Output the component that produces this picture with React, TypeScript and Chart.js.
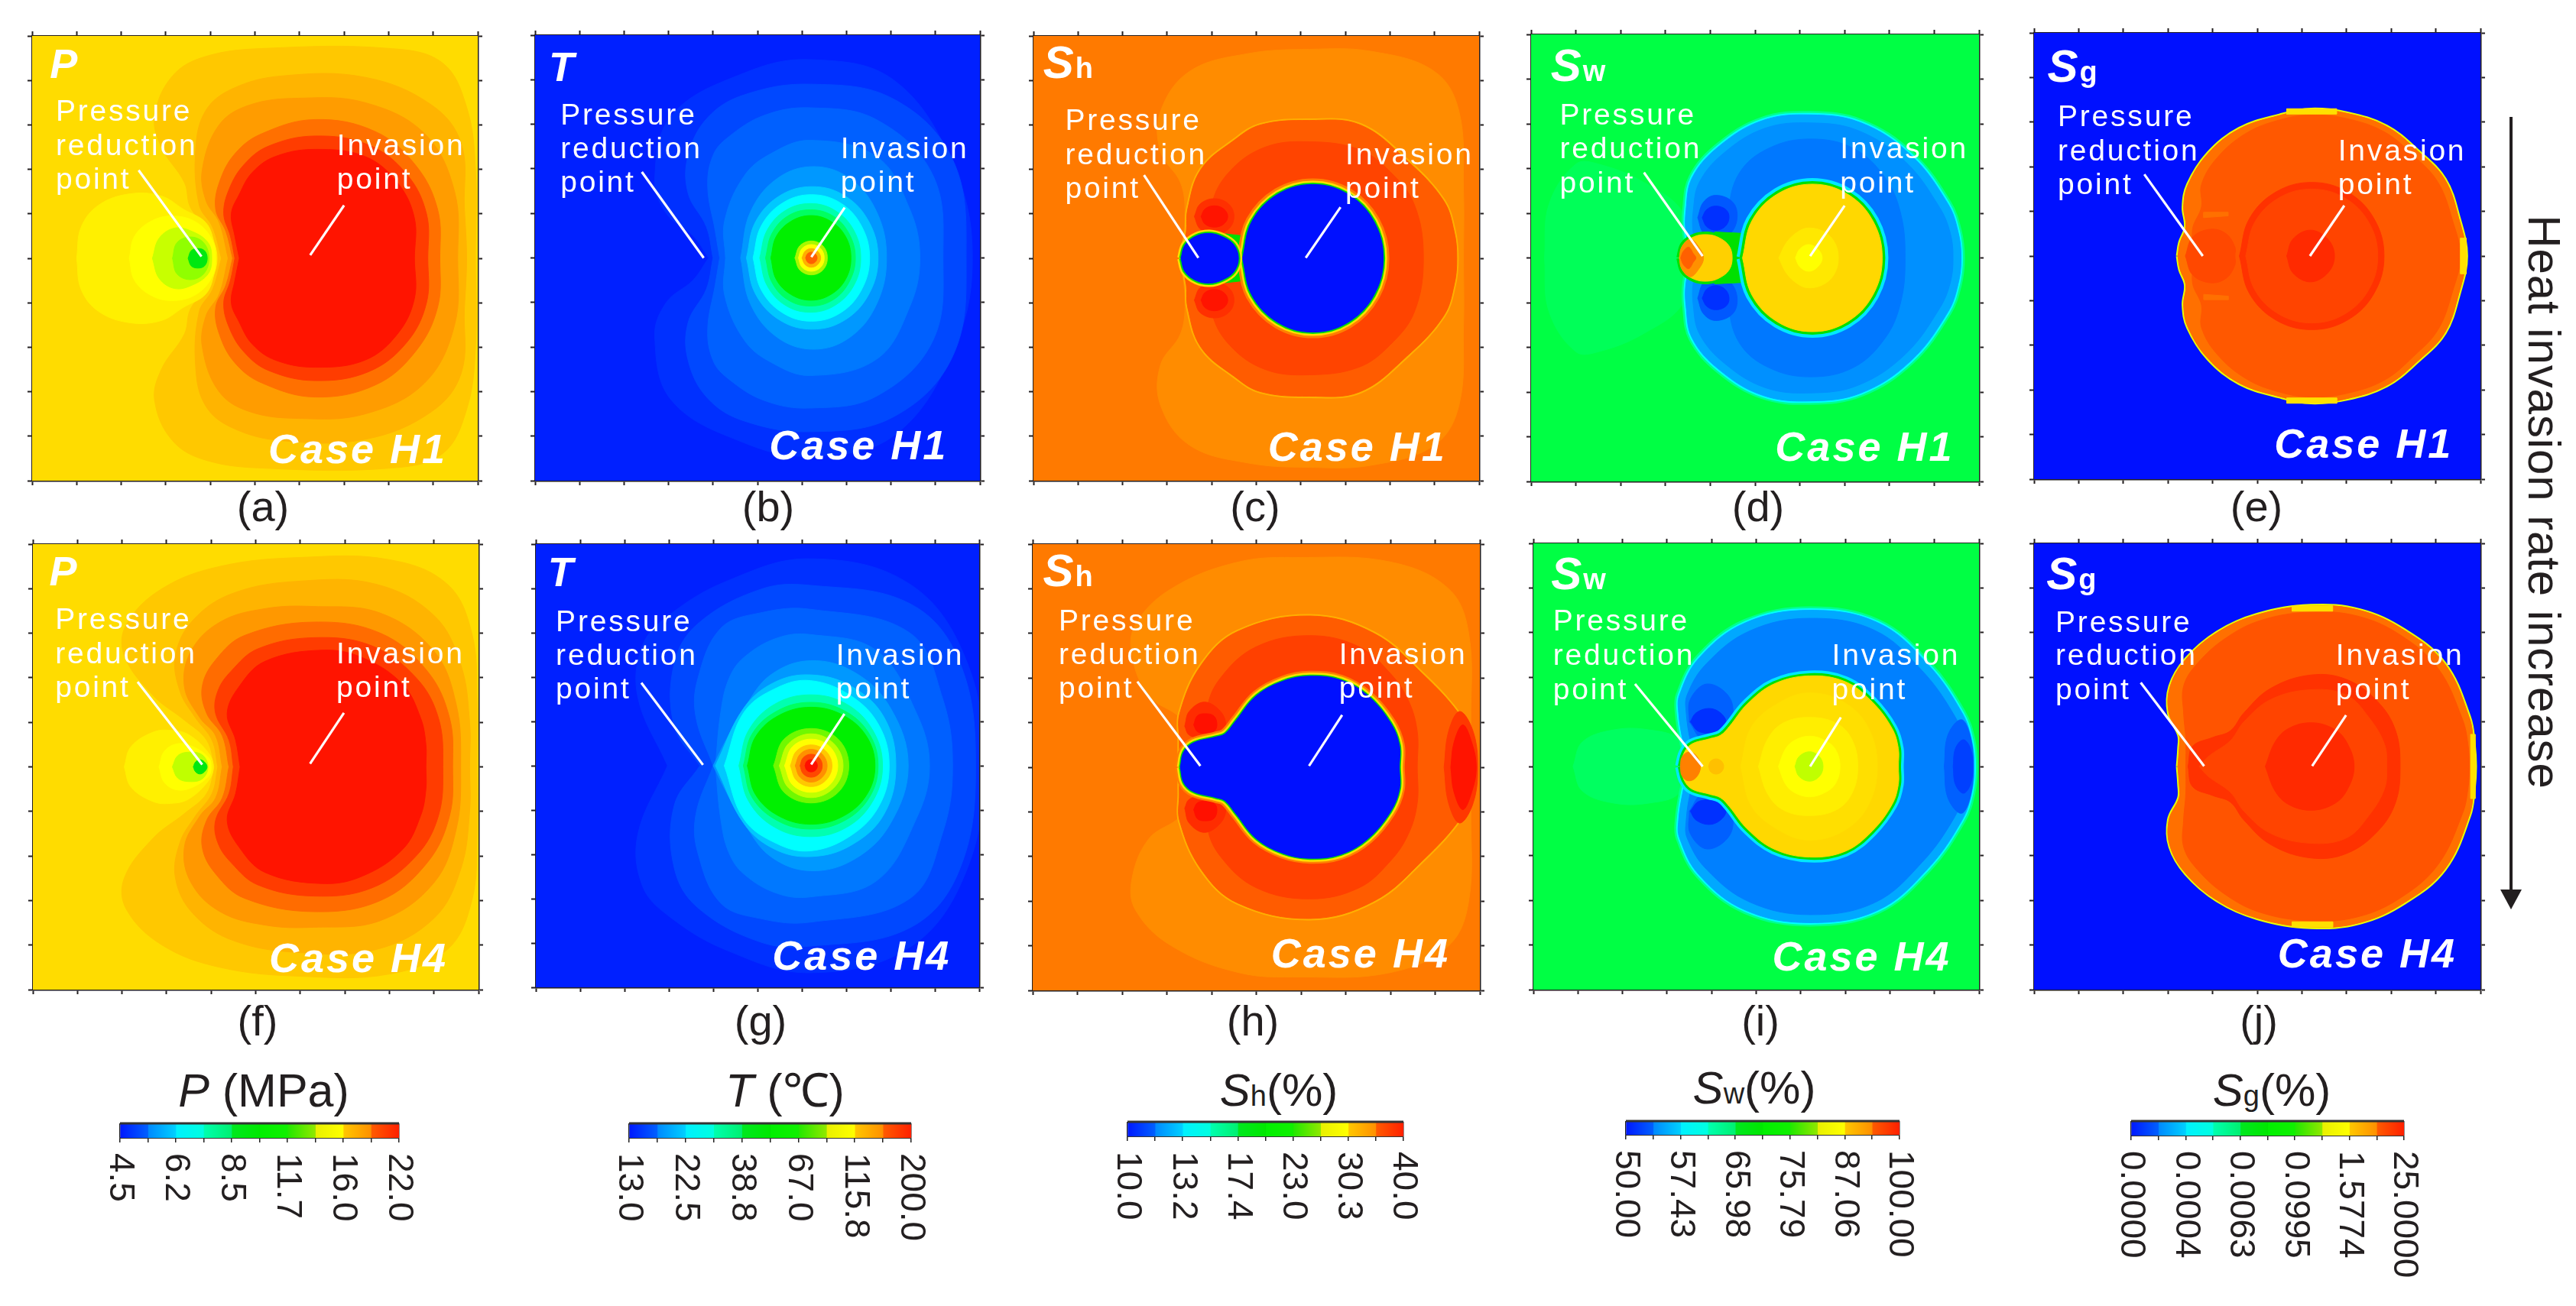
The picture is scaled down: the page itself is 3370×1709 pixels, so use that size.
import React, { useEffect, useRef } from "react";
import { Chart, registerables } from "chart.js";
Chart.register(...registerables);

const FONT = "'Liberation Sans', Arial, sans-serif";
const INK = "#231f20";

// Contours of each field. Each list is x,d pairs on the 0-10 grid,
// where d is the distance from the mid line y=5 (the fields are mirror-symmetric about it).
const contoursA = [
  [4.1,0,3.95,.6,3.55,1.15,3.42,1.7,2.9,2.5,2.75,3.2,3.15,4.1,3.9,4.54,5.23,4.72,8,4.72,9.2,4.4,9.75,3.4,9.95,2,9.95,0],
  [4.25,0,4.05,.7,3.75,1.2,3.67,2.44,3.89,3.31,4.49,3.81,5.6,4.1,7.47,4.07,8.96,3.45,9.63,2.58,9.7,1.14,9.75,0],
  [4.4,0,4.2,.8,3.9,1.3,3.82,2,4.19,2.99,4.86,3.44,5.98,3.6,7.47,3.5,8.81,2.8,9.48,1.5,9.55,0],
  [4.5,0,4.35,.6,4.12,1.1,4.2,1.7,4.55,2.35,5.15,2.8,6.35,3.12,7.7,2.85,8.6,2.1,9.1,1.1,9.15,0],
  [4.55,0,4.45,.5,4.3,1,4.42,1.55,4.75,2.1,5.3,2.52,6.35,2.75,7.55,2.55,8.4,1.9,8.85,1,8.88,0],
  [4.65,0,4.55,.5,4.47,1,4.64,1.42,4.94,1.93,5.46,2.29,6.35,2.45,7.47,2.29,8.2,1.7,8.58,.9,8.58,0],
  [1,0,1.1,.7,1.5,1.2,2.2,1.45,2.9,1.4,3.4,1.1,3.9,.8,4.1,.3,4.15,0],
  [2.18,0,2.3,.5,2.7,.85,3.2,.95,3.7,.8,4.05,.4,4.12,0],
  [2.7,0,2.85,.45,3.2,.68,3.6,.6,3.95,.35,4.03,0],
  [3.15,0,3.25,.35,3.55,.48,3.85,.35,3.97,0],
  [3.5,0,3.57,.17,3.72,.22,3.87,.17,3.93,0],
];
const contoursF = [
  [4.08,0,3.9,.6,3.4,1.05,2.7,1.6,2.05,2.5,2.1,3.2,2.9,4,4.2,4.5,6,4.7,8,4.65,9.3,4.1,9.85,3,9.97,1.5,9.97,0],
  [4.15,0,4.02,.6,3.65,1.1,3.3,1.7,3.2,2.5,3.6,3.3,4.5,3.9,6,4.17,7.7,4.1,9,3.4,9.6,2.3,9.8,1,9.8,0],
  [4.25,0,4.1,.7,3.75,1.1,3.4,1.8,3.55,2.6,4.2,3.25,5.2,3.55,6.3,3.6,7.8,3.45,9,2.6,9.5,1.4,9.6,0],
  [4.4,0,4.25,.7,3.9,1.2,3.8,1.8,4.1,2.4,4.75,2.95,6.3,3.25,7.8,3,8.85,2.15,9.35,1.1,9.42,0],
  [4.5,0,4.4,.6,4.1,1.2,4.15,1.7,4.45,2.15,5.05,2.65,6.3,2.9,7.6,2.72,8.6,2,9.1,1.1,9.2,0],
  [4.65,0,4.55,.6,4.36,1.2,4.62,1.79,5.21,2.37,6.5,2.62,7.4,2.45,8.3,1.85,8.7,1.1,8.82,.5,8.82,0],
  [2.05,0,2.2,.45,2.7,.78,3.1,.82,3.5,.72,3.95,.3,4.05,0],
  [2.83,0,2.95,.35,3.25,.52,3.6,.45,3.95,.2,4,0],
  [3.13,0,3.25,.25,3.5,.33,3.8,.27,3.93,0],
  [3.6,0,3.65,.11,3.75,.16,3.85,.11,3.91,0],
];
const pressureFillsA = ["#ffc800","#ffb400","#ff9c00","#ff7000","#ff3c00","#ff1400","#fff000","#ffff00","#c8ff00","#90ff00","#00e810"];
const pressureFillsF = ["#ffc800","#ffb400","#ff9800","#ff6c00","#ff3c00","#ff1400","#fff000","#ffff00","#c0ff00","#00e810"];

const contoursB = [
  [3.9,0,3.55,.5,2.95,1,2.69,1.77,3.07,3.2,4.7,4.15,6.19,4.45,8.05,4,9.39,2.1,9.83,0],
  [4,0,3.85,.7,3.44,1.45,3.44,2.3,3.88,3.15,4.7,3.66,6.19,3.9,8.05,3.57,9.39,2.2,9.69,0],
  [4.15,0,4.05,.6,3.88,1.6,4,2.3,4.33,2.7,5.15,3.2,6.19,3.37,7.68,3.1,8.94,1.86,9.17,0],
  [4.28,0,4.26,.83,4.7,1.84,5.3,2.34,6.19,2.64,7.68,2.27,8.42,1.1,8.65,0],
  [4.62,0,4.84,1.03,5.44,1.78,6.26,2.05,7.08,1.78,7.68,1.03,7.9,0],
  [4.75,0,4.95,.8,5.49,1.39,6.23,1.6,6.97,1.39,7.51,.8,7.71,0],
  [4.9,0,5.08,.71,5.56,1.23,6.21,1.42,6.87,1.23,7.34,.71,7.52,0],
  [5.05,0,5.21,.61,5.62,1.06,6.19,1.22,6.75,1.06,7.17,.61,7.32,0],
  [5.18,0,5.32,.54,5.68,.94,6.19,1.08,6.7,.94,7.06,.54,7.2,0],
  [5.3,0,5.42,.48,5.75,.82,6.2,.95,6.65,.82,6.98,.48,7.1,0],
  [5.84,0,5.95,.27,6.21,.38,6.47,.27,6.57,0],
  [5.92,0,6,.21,6.21,.3,6.42,.21,6.5,0],
  [6,0,6.07,.15,6.21,.21,6.35,.15,6.42,0],
  [6.08,0,6.12,.09,6.21,.13,6.3,.09,6.34,0],
];
const temperatureFillsB = ["#0030ff","#0048ff","#0060ff","#0078ff","#0098ff","#00c8ff","#00ffff","#00ffb0","#00ff60","#00f000","#a8f800","#ffff00","#ffb000","#ff6000"];

const contoursG = [
  [2.97,0,2.3,1.55,2.4,2.7,2.97,3.37,4.32,4.17,6.19,4.67,8.43,4.1,9.7,2.4,10.1,0],
  [3.7,0,3.12,.9,3.12,2.3,3.65,3.2,5.07,3.98,6.19,4.07,8.43,3.66,9.55,2.36,9.92,0],
  [4,0,3.61,1.1,3.65,1.95,4.17,3.1,5.07,3.45,6.19,3.53,8.43,3,9.18,1.5,9.4,0],
  [4.05,0,4.17,1.2,4.35,1.95,4.69,2.44,5.44,2.88,6.19,2.96,7.68,2.6,8.58,1.2,8.88,0],
  [4,0,4.3,.6,4.7,1.3,5.3,2.05,6.2,2.37,7.2,2.1,8,1.3,8.4,0],
  [4.05,0,4.69,1.3,5.38,1.88,6.2,2.05,7.1,1.8,7.85,1.1,8.12,0],
  [4.25,0,4.69,1.2,5.44,1.76,6.2,1.92,7.1,1.58,7.74,.91,7.97,0],
  [4.58,0,4.8,.8,5.39,1.39,6.2,1.6,7.01,1.39,7.6,.8,7.82,0],
  [4.68,0,4.88,.72,5.45,1.24,6.2,1.43,6.96,1.24,7.52,.72,7.72,0],
  [4.77,0,4.96,.66,5.49,1.14,6.21,1.32,6.93,1.14,7.46,.66,7.65,0],
  [5.36,0,5.6,.6,6.21,.84,6.82,.6,7.06,0],
  [5.49,0,5.7,.5,6.21,.72,6.72,.5,6.93,0],
  [5.61,0,5.79,.43,6.21,.6,6.63,.43,6.81,0],
  [5.74,0,5.88,.33,6.21,.47,6.54,.33,6.68,0],
  [5.85,0,5.96,.26,6.21,.37,6.46,.26,6.57,0],
  [5.96,0,6.03,.18,6.21,.26,6.39,.18,6.46,0],
  [6.07,0,6.11,.1,6.21,.14,6.31,.1,6.35,0],
];
const temperatureFillsG = ["#0030ff","#0048ff","#0060ff","#0078ff","#0098ff","#00c8ff","#00ffff","#00ffb0","#00ff60","#00f000","#70f800","#c0ff00","#ffff00","#ffc800","#ff9000","#ff4800","#ff1000"];

const contoursC = [
  [3.3,0,3.4,1,3.3,1.7,2.85,2.4,2.85,3.3,3.5,4.2,4.8,4.6,6.2,4.7,7.6,4.65,9,4.2,9.55,3.3,9.65,1.5,9.65,0],
  [3.3,0,3.43,.6,3.46,1.1,3.76,2,4.5,2.65,5.1,3,6.18,3.1,7.33,3,8.38,2.2,9.2,1.3,9.44,.6,9.5,0],
  [3.95,0,4,1.2,4.4,1.95,5.2,2.5,6.2,2.62,7.3,2.45,8,1.95,8.55,1.2,8.75,0],
  [3.61,.94,3.74,1.22,4.06,1.34,4.38,1.22,4.5,.94,4.38,.66,4.06,.54,3.74,.66],
  [3.76,.94,3.85,1.11,4.06,1.18,4.27,1.11,4.36,.94,4.27,.77,4.06,.7,3.85,.77],
  [4.3,0,4.3,.55,4.75,.5,4.75,0],
  [4.69,0,4.9,.83,5.48,1.44,6.27,1.66,7.06,1.44,7.64,.83,7.85,0],
  [3.31,0,3.4,.3,3.65,.5,3.95,.56,4.25,.48,4.5,.3,4.6,0],
];
const contoursH = [
  [3.25,0,3.3,.8,3.3,1.1,2.6,1.6,2.22,2.5,2.3,3.2,3.1,4,4.6,4.6,6,4.7,8,4.6,9.3,4,9.75,3,9.8,1,9.8,0],
  [3.28,0,3.28,.6,3.29,1.21,3.77,2.29,4.58,3.04,6.2,3.39,7.63,3,8.74,2.07,9.6,1.1,9.84,.5,9.89,0],
  [3.9,0,3.9,1.3,4.2,2,5,2.7,6.2,2.95,7.3,2.7,8,2.1,8.4,1.5,8.6,.8,8.6,0],
  [9.2,0,9.3,.8,9.55,1.25,9.85,.8,9.95,0],
  [9.35,0,9.42,.55,9.62,.95,9.82,.55,9.92,0],
  [3.4,.92,3.5,1.25,3.84,1.46,4.2,1.25,4.32,.92,4.2,.72,3.84,.64,3.5,.72],
  [3.6,.95,3.68,1.15,3.84,1.2,4.05,1.15,4.12,.95,4.05,.8,3.84,.76,3.68,.8],
  [3.3,0,3.38,.35,3.6,.55,4.1,.68,4.3,.75,4.55,1.05,5,1.6,5.6,1.93,6.2,2.04,6.9,1.95,7.5,1.6,8,1,8.2,.5,8.2,0],
];
const contoursD = [
  [.3,0,.4,1.2,1,2.1,1.5,2.1,2.5,1.7,3.4,1,3.5,0],
  [3.6,0,3.46,.55,3.46,1.08,3.6,1.8,4.2,2.5,5.16,3.07,6.23,3.2,7.37,3.02,8.48,2.3,9.3,1.22,9.53,.6,9.6,0],
  [3.75,0,3.62,.55,3.62,1.05,3.76,1.7,4.32,2.36,5.22,2.9,6.23,3.02,7.3,2.85,8.35,2.16,9.12,1.13,9.36,.55,9.42,0],
  [4.4,0,4.4,1,4.65,1.9,5.3,2.45,6.23,2.66,7.2,2.45,7.9,1.8,8.25,1,8.35,0],
  [3.72,.9,3.85,1.25,4.12,1.4,4.5,1.25,4.6,.9,4.45,.55,4.12,.42,3.85,.55],
  [3.82,.9,3.92,1.08,4.12,1.16,4.35,1.08,4.42,.9,4.33,.7,4.12,.62,3.92,.7],
  [4.1,0,4.1,.58,4.72,.55,4.72,0],
  [4.72,0,4.93,.83,5.5,1.43,6.28,1.65,7.06,1.43,7.63,.83,7.84,0],
  [5.53,0,5.7,.34,5.95,.58,6.2,.67,6.55,.58,6.78,.34,6.86,0],
  [5.9,0,6,.2,6.2,.3,6.4,.2,6.5,0],
  [3.31,0,3.4,.3,3.65,.48,3.95,.52,4.2,.45,4.42,.27,4.49,0],
  [3.31,0,3.36,.24,3.55,.42,3.72,.28,3.85,0],
  [3.34,0,3.4,.15,3.52,.24,3.62,.1,3.68,0],
];
const contoursI = [
  [.89,0,1.1,.55,1.8,.82,2.6,.82,3.27,.6,3.4,0],
  [3.5,0,3.36,.55,3.26,1.2,3.28,1.6,3.72,2.43,4.76,3.22,6.21,3.5,7.73,3.22,8.85,2.29,9.62,1.2,9.83,.6,9.89,0],
  [3.7,0,3.53,.55,3.43,1.2,3.45,1.6,3.88,2.3,4.86,3.04,6.21,3.32,7.66,3.05,8.72,2.15,9.46,1.12,9.66,.55,9.72,0],
  [3.5,1,3.52,1.5,3.9,1.85,4.4,1.55,4.45,1,4.2,.7,3.8,.6],
  [3.52,1,3.65,1.2,3.94,1.3,4.2,1.2,4.32,.98,4.1,.78,3.72,.78],
  [9.22,0,9.3,.7,9.6,1.05,9.8,.7,9.87,0],
  [9.42,0,9.47,.4,9.65,.6,9.81,.4,9.86,0],
  [3.3,0,3.38,.3,3.55,.5,3.95,.62,4.2,.7,4.4,.9,4.8,1.4,5.4,1.85,6.2,2.03,7,1.9,7.6,1.45,8.05,.85,8.19,.4,8.19,0],
  [4.65,0,4.9,.9,5.55,1.45,6.2,1.65,6.95,1.45,7.5,.9,7.72,0],
  [5.05,0,5.25,.6,5.6,.97,6.18,1.1,6.8,.97,7.15,.6,7.28,0],
  [5.5,0,5.65,.38,5.85,.58,6.2,.68,6.55,.58,6.78,.38,6.88,0],
  [5.87,0,5.96,.22,6.2,.33,6.42,.22,6.5,0],
  [3.3,0,3.33,.2,3.47,.32,3.65,.25,3.75,0],
  [3.93,0,3.98,.12,4.1,.17,4.22,.12,4.27,0],
];
const contoursE = [
  [3.22,0,3.27,.3,3.4,.65,3.35,1.1,3.45,1.6,3.9,2.3,4.6,2.85,5.5,3.15,6.2,3.28,7,3.2,7.9,2.9,8.6,2.35,9.2,1.72,9.52,.83,9.68,0],
  [3.6,0,3.55,.6,3.75,1.1,3.75,1.6,4.1,2.2,4.75,2.75,5.5,3.05,6.2,3.16,7,3.08,7.85,2.78,8.5,2.25,9.05,1.65,9.38,.78,9.55,0],
  [5.66,3.18,6.78,3.18,6.78,3.3,5.66,3.3],
  [9.55,0,9.55,.4,9.68,.4,9.68,0],
  [3.8,.86,4.35,.9,4.35,.98,3.8,.98],
  [3.39,0,3.55,.42,3.95,.6,4.3,.5,4.5,.2,4.5,0],
  [4.6,0,4.82,.83,5.41,1.43,6.22,1.65,7.03,1.43,7.62,.83,7.84,0],
  [4.74,0,4.94,.75,5.48,1.3,6.22,1.5,6.96,1.3,7.5,.75,7.7,0],
  [5.66,0,5.8,.38,6.19,.58,6.58,.38,6.73,0],
];
const contoursJ = [
  [3.22,0,3.25,.4,3.25,.7,3.02,1.2,3.05,1.8,3.4,2.4,4.1,3,5,3.4,6.2,3.6,7.3,3.5,8.3,3.05,9.2,2.3,9.75,1.1,9.85,.5,9.88,0],
  [3.4,0,3.4,.6,3.35,1.2,3.35,1.8,3.65,2.3,4.3,2.88,5.1,3.28,6.2,3.46,7.25,3.37,8.2,2.95,9.05,2.2,9.6,1.05,9.72,.5,9.75,0],
  [5.78,3.48,6.69,3.48,6.69,3.6,5.78,3.6],
  [9.78,0,9.78,.72,9.88,.72,9.88,0],
  [3.45,0,3.55,.45,4,.65,4.4,.8,4.7,1.2,5.3,1.75,6.2,2.05,7,1.95,7.7,1.45,8.1,.8,8.2,0],
  [3.7,0,3.9,.22,4.4,.58,4.7,1,5.3,1.5,6.2,1.72,7,1.6,7.5,1.1,7.85,.5,7.9,0],
  [5.18,0,5.4,.55,5.7,.85,6.2,.98,6.7,.85,7,.55,7.17,0],
];

const R1 = (a: string, w: number) => [a, w] as [string, number];
const stylesC = [
  { c: "#ff8c00" }, { c: "#ff5c00", rims: [R1("#ffb000", 5)] }, { c: "#ff4400" },
  { c: "#ff3000", spot: true }, { c: "#ff1400", spot: true }, { c: "#00e000", t: 0 },
  { c: "#0010ff", rims: [R1("#ff8000", 16), R1("#ffe000", 10), R1("#00e000", 5)] },
  { c: "#0010ff", rims: [R1("#ffe000", 10), R1("#00e000", 5)] },
];
const stylesH = [
  { c: "#ff8c00" }, { c: "#ff5c00", rims: [R1("#ffb000", 5)] }, { c: "#ff4000" },
  { c: "#ff3800" }, { c: "#ff1400" }, { c: "#ff2c00", spot: true }, { c: "#ff1000", spot: true },
  { c: "#0010ff", rims: [R1("#ff8000", 14), R1("#ffe000", 9), R1("#00e000", 4)] },
];
const stylesD = [
  { c: "#00ff58" }, { c: "#00a8ff", rims: [R1("#00ff90", 10), R1("#00ffff", 5)] }, { c: "#0090ff" }, { c: "#0078ff" },
  { c: "#0058ff", spot: true }, { c: "#0030ff", spot: true }, { c: "#00e000", t: 0 },
  { c: "#ffd800", rims: [R1("#00e8ff", 16), R1("#00e000", 8)] }, { c: "#ffe800" }, { c: "#ffff00" },
  { c: "#ffd000", rims: [R1("#00e000", 8)] }, { c: "#ff9000" }, { c: "#ff6000" },
];
const stylesI = [
  { c: "#00ff60" }, { c: "#00a8ff", rims: [R1("#00ff90", 10), R1("#00ffff", 5)] }, { c: "#0080ff" },
  { c: "#0060ff", spot: true }, { c: "#0030ff", spot: true }, { c: "#0060ff" }, { c: "#0040ff" },
  { c: "#ffd800", rims: [R1("#00e8ff", 14), R1("#00e000", 7)] }, { c: "#ffdf00" }, { c: "#ffee00" }, { c: "#ffff00" }, { c: "#c0ff00" },
  { c: "#ff8000" }, { c: "#ffc000" },
];
const stylesE = [
  { c: "#ff7000", rims: [R1("#e8ff00", 5)] }, { c: "#ff5800" }, { c: "#ffe000", spot: true, t: 0 }, { c: "#ffe000", t: 0 },
  { c: "#ff7000", spot: true, t: 0 }, { c: "#ff4800" }, { c: "#ff3200" }, { c: "#ff4400" }, { c: "#ff2a00" },
];
const stylesJ = [
  { c: "#ff7000", rims: [R1("#e8ff00", 5)] }, { c: "#ff5400" }, { c: "#ffe000", spot: true, t: 0 }, { c: "#ffe000", t: 0 },
  { c: "#ff3200" }, { c: "#ff4400" }, { c: "#ff2a00" },
];
const plain = (fills: string[]) => fills.map((c) => ({ c }));

const pressureLeaders = {
  a: [2.39,3.02,3.8,4.96, 7,3.81,6.24,4.93], b: [2.4,3.07,3.79,5, 6.96,3.87,6.21,4.98],
  c: [2.48,3.13,3.7,4.99, 6.89,3.85,6.11,4.99], d: [2.52,3.09,3.83,4.96, 7,3.83,6.23,4.96],
  e: [2.47,3.17,3.78,5, 6.95,3.87,6.18,5], f: [2.35,3.09,3.8,4.95, 6.98,3.79,6.22,4.93],
  g: [2.38,3.13,3.77,4.98, 6.96,3.83,6.21,4.97], h: [2.34,3.08,3.75,4.97, 6.92,3.83,6.18,4.97],
  i: [2.28,3.15,3.8,5, 6.9,3.9,6.21,5], j: [2.39,3.12,3.81,4.99, 6.99,3.85,6.23,4.99],
};

// x of "Pressure…", its 3 baselines, x of "Invasion", x/y of the case label, x/y of the symbol
const textAnchors = {
  a: [.53,1.9,2.68,3.44,6.84,5.3,9.6,.4,.94], b: [.57,2,2.77,3.52,6.87,5.26,9.52,.31,1.03],
  c: [.71,2.12,2.89,3.65,7,5.26,9.55,.22,.94], d: [.64,2.01,2.77,3.53,6.9,5.45,9.53,.44,1.04],
  e: [.53,2.09,2.86,3.62,6.81,5.38,9.52,.3,1.1], f: [.5,1.91,2.67,3.43,6.81,5.3,9.6,.37,.92],
  g: [.45,1.96,2.73,3.49,6.77,5.33,9.6,.27,.95], h: [.58,1.93,2.69,3.44,6.85,5.33,9.49,.23,.94],
  i: [.44,1.96,2.73,3.5,6.7,5.36,9.57,.4,1.02], j: [.48,1.98,2.73,3.5,6.76,5.46,9.51,.28,1.02],
};

const frames = {
  a: [42,47,583,582], b: [700,46,582,583], c: [1352,47,583,582], d: [2003,45,586,585], e: [2661,43,584,584],
  f: [43,712,583,583], g: [701,712,580,580], h: [1351,712,585,584], i: [2006,711,583,584], j: [2661,711,584,584],
};
const backgrounds = { P: "#ffdc00", T: "#0020ff", Sh: "#ff7a00", Sw: "#00ff44", Sg: "#0010ff" };

const panels: any[] = [
  { id: "a", sym: "P", cs: "Case H1", contours: contoursA, styles: plain(pressureFillsA) },
  { id: "b", sym: "T", cs: "Case H1", contours: contoursB, styles: plain(temperatureFillsB) },
  { id: "c", sym: "Sh", cs: "Case H1", contours: contoursC, styles: stylesC },
  { id: "d", sym: "Sw", cs: "Case H1", contours: contoursD, styles: stylesD },
  { id: "e", sym: "Sg", cs: "Case H1", contours: contoursE, styles: stylesE },
  { id: "f", sym: "P", cs: "Case H4", contours: contoursF, styles: plain(pressureFillsF) },
  { id: "g", sym: "T", cs: "Case H4", contours: contoursG, styles: plain(temperatureFillsG) },
  { id: "h", sym: "Sh", cs: "Case H4", contours: contoursH, styles: stylesH },
  { id: "i", sym: "Sw", cs: "Case H4", contours: contoursI, styles: stylesI },
  { id: "j", sym: "Sg", cs: "Case H4", contours: contoursJ, styles: stylesJ },
];

const captions = [
  ["(a)",344,663],["(b)",1005,663],["(c)",1642,663],["(d)",2300,663],["(e)",2952,663],
  ["(f)",337,1336],["(g)",995,1336],["(h)",1639,1336],["(i)",2303,1336],["(j)",2955,1336],
];

const tickP = ["4.5","6.2","8.5","11.7","16.0","22.0"];
const tickT = ["13.0","22.5","38.8","67.0","115.8","200.0"];
const tickSh = ["10.0","13.2","17.4","23.0","30.3","40.0"];
const tickSw = ["50.00","57.43","65.98","75.79","87.06","100.00"];
const tickSg = ["0.0000","0.0004","0.0063","0.0995","1.5774","25.0000"];
const barCells = [0,1,2,3,4,5,6,7,8,9];
const cellColours = [
  ["#0018ff","#0060ff"],["#0088ff","#00d0ff"],["#00f0ff","#00ffe0"],["#00ffb0","#00f070"],["#00e820","#00e800"],
  ["#00f000","#10f000"],["#20e800","#90e800"],["#e8f000","#ffff00"],["#ffc800","#ff9000"],["#ff5c00","#ff2000"],
];
const bars: any[] = [
  { x: 157, y: 1470, w: 365, h: 19, ticks: tickP },
  { x: 823, y: 1470, w: 369, h: 19, ticks: tickT },
  { x: 1475, y: 1468, w: 361, h: 19, ticks: tickSh },
  { x: 2127, y: 1467, w: 358, h: 18, ticks: tickSw },
  { x: 2788, y: 1467, w: 357, h: 19, ticks: tickSg },
];

function pairsOf(flat: number[]) {
  const out: [number, number][] = [];
  for (let i = 0; i < flat.length; i += 2) out.push([flat[i], flat[i + 1]]);
  return out;
}
function outline(flat: number[], sign: number, spot: boolean) {
  const p = pairsOf(flat);
  if (spot) {
    const pts = p.map(([x, d]) => ({ x, y: 5 + sign * d }));
    pts.push(pts[0]);
    return pts;
  }
  const up = p.map(([x, d]) => ({ x, y: 5 - d }));
  const down = p.slice().reverse().filter(([, d]) => d !== 0).map(([x, d]) => ({ x, y: 5 + d }));
  return [...up, ...down, up[0]];
}

function layerDatasets(contours: number[][], styles: any[]) {
  const out: any[] = [];
  contours.forEach((flat, i) => {
    const s = styles[i];
    const signs = s.spot ? [-1, 1] : [1];
    signs.forEach((sg) => {
      const data = outline(flat, sg, !!s.spot);
      const tension = s.t === 0 ? 0 : 0.38;
      (s.rims || []).forEach(([col, w]: [string, number]) =>
        out.push({ data, showLine: true, pointRadius: 0, tension, fill: false, borderColor: col, borderWidth: w })
      );
      out.push({ data, showLine: true, pointRadius: 0, tension, fill: "shape", backgroundColor: s.c, borderColor: s.c, borderWidth: 1 });
    });
  });
  return out;
}

const panelAxis = (axis: string, position: string, reverse = false) => ({
  type: "linear", axis, position, min: 0, max: 10, reverse, z: 1,
  afterFit: (s: any) => { if (axis === "x") s.height = 8; else s.width = 8; },
  ticks: { display: false, stepSize: 1 },
  grid: { drawOnChartArea: false, tickLength: 6, tickWidth: 2, color: INK },
  border: { color: INK, width: 2.5 },
});

function Panel({ cfg }: { cfg: any }) {
  const ref = useRef<HTMLCanvasElement>(null);
  useEffect(() => {
    const leaders = (pressureLeaders as any)[cfg.id];
    const anchors = (textAnchors as any)[cfg.id];
    const datasets = layerDatasets(cfg.contours, cfg.styles);
    [0, 4].forEach((k) =>
      datasets.push({
        data: [{ x: leaders[k], y: leaders[k + 1] }, { x: leaders[k + 2], y: leaders[k + 3] }],
        showLine: true, pointRadius: 0, borderColor: "#fff", borderWidth: 3.2, fill: false,
      })
    );
    datasets.forEach((d, i) => (d.order = -i));
    const bg = (backgrounds as any)[cfg.sym];
    const chart = new Chart(ref.current!, {
      type: "scatter",
      data: { datasets },
      options: {
        animation: false, responsive: false, maintainAspectRatio: false,
        layout: { padding: 0 },
        plugins: { legend: { display: false }, tooltip: { enabled: false } },
        scales: {
          x: panelAxis("x", "bottom"), x2: panelAxis("x", "top"),
          y: panelAxis("y", "left", true), y2: panelAxis("y", "right", true),
        } as any,
      },
      plugins: [{
        id: "field",
        beforeDatasetsDraw(c: any) {
          const a = c.chartArea;
          c.ctx.save(); c.ctx.fillStyle = bg; c.ctx.fillRect(a.left, a.top, a.width, a.height); c.ctx.restore();
        },
        afterDraw(c: any) {
          const g = c.ctx, X = c.scales.x, Y = c.scales.y;
          const px = (v: number) => X.getPixelForValue(v), py = (v: number) => Y.getPixelForValue(v);
          g.save();
          g.fillStyle = "#fff"; g.textAlign = "left"; g.textBaseline = "alphabetic";
          g.font = `39px ${FONT}`; (g as any).letterSpacing = "2.8px";
          g.fillText("Pressure", px(anchors[0]), py(anchors[1]));
          g.fillText("reduction", px(anchors[0]), py(anchors[2]));
          g.fillText("point", px(anchors[0]), py(anchors[3]));
          g.fillText("Invasion", px(anchors[4]), py(anchors[2]));
          g.fillText("point", px(anchors[4]), py(anchors[3]));
          g.font = `italic bold 54px ${FONT}`; (g as any).letterSpacing = "3px";
          g.fillText(cfg.cs, px(anchors[5]), py(anchors[6]));
          (g as any).letterSpacing = "0px";
          const first = cfg.sym[0], sub = cfg.sym.slice(1);
          g.font = `italic bold ${sub ? 60 : 54}px ${FONT}`;
          g.fillText(first, px(anchors[7]), py(anchors[8]));
          if (sub) {
            const w = g.measureText(first).width;
            g.font = `bold 38px ${FONT}`;
            g.fillText(sub, px(anchors[7]) + w + 2, py(anchors[8]));
          }
          g.restore();
        },
      }],
    } as any);
    return () => chart.destroy();
  }, []);
  const [x, y, w, h] = (frames as any)[cfg.id];
  return <canvas ref={ref} width={w + 16} height={h + 16}
    style={{ position: "absolute", left: x - 8, top: y - 8, width: w + 16, height: h + 16 }} />;
}

function ColourBar({ cfg }: { cfg: any }) {
  const ref = useRef<HTMLCanvasElement>(null);
  const side = 40, top = 5, below = 210;
  useEffect(() => {
    const chart = new Chart(ref.current!, {
      type: "bar",
      data: {
        labels: [""],
        datasets: barCells.map((i) => ({
          data: [[i, i + 1]],
          barPercentage: 1, categoryPercentage: 1, grouped: false, borderWidth: 0,
          backgroundColor: (c: any) => {
            const x = c.chart.scales.x;
            const x0 = x ? x.getPixelForValue(i) : NaN, x1 = x ? x.getPixelForValue(i + 1) : NaN;
            if (!Number.isFinite(x0) || !Number.isFinite(x1)) return cellColours[i][0];
            const gr = c.chart.ctx.createLinearGradient(x0, 0, x1, 0);
            gr.addColorStop(0, cellColours[i][0]);
            gr.addColorStop(1, cellColours[i][1]);
            return gr;
          },
        })),
      },
      options: {
        indexAxis: "y", animation: false, responsive: false, maintainAspectRatio: false,
        layout: { padding: { left: side, right: side, top, bottom: below } },
        plugins: { legend: { display: false }, tooltip: { enabled: false } },
        scales: {
          x: {
            type: "linear", min: 0, max: 10, z: 1,
            afterFit: (s: any) => { s.height = 6; },
            ticks: { display: false, stepSize: 1 },
            grid: { color: "#222", lineWidth: 1.5, tickLength: 6, tickWidth: 1.5 },
            border: { color: "#333", width: 2 },
          },
          y: { display: false },
        } as any,
      },
      plugins: [{
        id: "barLabels",
        afterDraw(c: any) {
          const g = c.ctx, a = c.chartArea, X = c.scales.x;
          g.save();
          g.strokeStyle = "#333"; g.lineWidth = 3;
          g.beginPath(); g.moveTo(a.left, a.top); g.lineTo(a.right, a.top); g.stroke();
          g.fillStyle = INK; g.textAlign = "left"; g.textBaseline = "middle";
          g.font = `46px ${FONT}`;
          cfg.ticks.forEach((t: string, k: number) => {
            g.save();
            g.translate(X.getPixelForValue(k * 2), a.bottom + 20);
            g.rotate(Math.PI / 2);
            g.fillText(t, 0, 0);
            g.restore();
          });
          g.restore();
        },
      }],
    } as any);
    return () => chart.destroy();
  }, []);
  const cw = cfg.w + side * 2, ch = cfg.h + top + 6 + below;
  return <canvas ref={ref} width={cw} height={ch}
    style={{ position: "absolute", left: cfg.x - side, top: cfg.y - top, width: cw, height: ch }} />;
}

const centered = (x: number, y: number, size: number): React.CSSProperties => ({
  position: "absolute", left: x, top: y, transform: "translate(-50%,-50%)", whiteSpace: "nowrap",
  fontFamily: FONT, fontSize: size, color: INK, lineHeight: 1,
});
const Sub = ({ t }: { t: string }) => <span style={{ fontSize: 38 }}>{t}</span>;

export default function App() {
  return (
    <div style={{ position: "absolute", left: 0, top: 0, width: 3370, height: 1709, background: "#fff", overflow: "hidden" }}>
      {panels.map((p) => <Panel key={p.id} cfg={p} />)}
      {bars.map((b, i) => <ColourBar key={i} cfg={b} />)}
      {captions.map(([t, x, y]) => <div key={t as string} style={centered(x as number, y as number, 56)}>{t}</div>)}
      <div style={centered(345, 1427, 61)}><i>P</i> (MPa)</div>
      <div style={centered(1027, 1427, 61)}><i>T</i> (℃)</div>
      <div style={centered(1673, 1427, 60)}><i>S</i><Sub t="h" />(%)</div>
      <div style={centered(2295, 1424, 60)}><i>S</i><Sub t="w" />(%)</div>
      <div style={centered(2972, 1427, 60)}><i>S</i><Sub t="g" />(%)</div>
      <div style={{ ...centered(3328, 657, 60), transform: "translate(-50%,-50%) rotate(90deg)", letterSpacing: 0.9 }}>
        Heat invasion rate increase
      </div>
      <svg width={3370} height={1709} style={{ position: "absolute", left: 0, top: 0, pointerEvents: "none" }}>
        <line x1={3285} y1={153} x2={3285} y2={1166} stroke={INK} strokeWidth={4} />
        <polygon points="3271,1164 3299,1164 3285,1190" fill={INK} />
      </svg>
    </div>
  );
}
